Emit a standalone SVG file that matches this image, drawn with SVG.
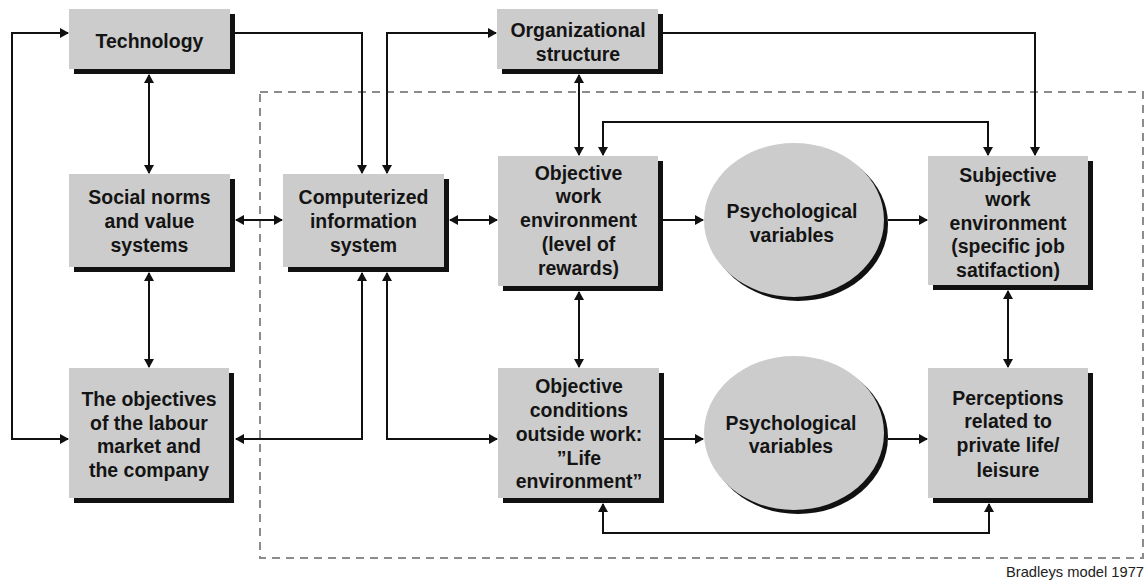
<svg xmlns="http://www.w3.org/2000/svg" width="1147" height="584" viewBox="0 0 1147 584">
  <defs>
    <marker id="arrow" viewBox="0 0 9 10" refX="8" refY="5" markerWidth="9" markerHeight="10" markerUnits="userSpaceOnUse" orient="auto-start-reverse">
      <path d="M0,0 L9,5 L0,10 z" fill="#111"/>
    </marker>
    <style>
      .box { fill: #cccccc; }
      .shadow { fill: #111; }
      .label { font-family: "Liberation Sans", Arial, sans-serif; font-weight: bold; font-size: 20.5px; fill: #141414; text-anchor: middle; }
      .conn { fill: none; stroke: #111; stroke-width: 2; }
      .both { marker-start: url(#arrow); marker-end: url(#arrow); }
      .one { marker-end: url(#arrow); }
      .frame { fill: none; stroke: #8c8c8c; stroke-width: 2; stroke-dasharray: 8 6; }
      .caption { font-family: "Liberation Sans", Arial, sans-serif; font-size: 15px; fill: #222; text-anchor: end; }
    </style>
  </defs>

  <rect width="1147" height="584" fill="#ffffff"/>

  <!-- dashed boundary of the individual's sphere -->
  <rect class="frame" x="260" y="92" width="883" height="466"/>

  <!-- connectors -->
  <g id="connectors">
    <path class="conn both" d="M68,33 L12,33 L12,439 L68,439"/>
    <path class="conn one" d="M235,33 L362,33 L362,173"/>
    <path class="conn both" d="M496,33 L387,33 L387,173"/>
    <path class="conn both" d="M149,75 L149,173"/>
    <path class="conn both" d="M236,220 L282,220"/>
    <path class="conn both" d="M149,273 L149,367"/>
    <path class="conn both" d="M362,273 L362,439 L236,439"/>
    <path class="conn both" d="M387,273 L387,439 L497,439"/>
    <path class="conn both" d="M450,220 L497,220"/>
    <path class="conn both" d="M579,75 L579,155"/>
    <path class="conn both" d="M603,155 L603,122 L988,122 L988,155"/>
    <path class="conn one" d="M663,33 L1035,33 L1035,155"/>
    <path class="conn one" d="M663,220 L703,220"/>
    <path class="conn one" d="M888,220 L927,220"/>
    <path class="conn both" d="M579,292 L579,367"/>
    <path class="conn both" d="M1008,291 L1008,367"/>
    <path class="conn one" d="M664,439 L703,439"/>
    <path class="conn one" d="M888,439 L927,439"/>
    <path class="conn both" d="M603,504 L603,533 L989,533 L989,504"/>
  </g>

  <!-- labels are narrowed slightly about their centre line to get a condensed face -->
  <g id="technology">
    <rect class="shadow" x="74" y="14" width="161" height="60"/>
    <rect class="box" x="69" y="9" width="161" height="60"/>
    <text class="label" transform="translate(7.475,0) scale(0.95,1)" x="149.5" y="48">Technology</text>
  </g>

  <g id="organizational-structure">
    <rect class="shadow" x="502" y="14" width="161" height="60"/>
    <rect class="box" x="497" y="9" width="161" height="60"/>
    <text class="label" transform="translate(28.9,0) scale(0.95,1)"><tspan x="578" y="37">Organizational</tspan><tspan x="578" y="61">structure</tspan></text>
  </g>

  <g id="social-norms">
    <rect class="shadow" x="74" y="179" width="161" height="93"/>
    <rect class="box" x="69" y="174" width="161" height="93"/>
    <text class="label" transform="translate(7.475,0) scale(0.95,1)"><tspan x="149.5" y="204">Social norms</tspan><tspan x="149.5" y="228">and value</tspan><tspan x="149.5" y="252">systems</tspan></text>
  </g>

  <g id="computerized-information-system">
    <rect class="shadow" x="288" y="179" width="161" height="93"/>
    <rect class="box" x="283" y="174" width="161" height="93"/>
    <text class="label" transform="translate(18.175,0) scale(0.95,1)"><tspan x="363.5" y="204">Computerized</tspan><tspan x="363.5" y="228">information</tspan><tspan x="363.5" y="252">system</tspan></text>
  </g>

  <g id="labour-market-objectives">
    <rect class="shadow" x="74" y="373" width="160" height="130"/>
    <rect class="box" x="69" y="368" width="160" height="130"/>
    <text class="label" transform="translate(7.45,0) scale(0.95,1)"><tspan x="149" y="406">The objectives</tspan><tspan x="149" y="430">of the labour</tspan><tspan x="149" y="453">market and</tspan><tspan x="149" y="477">the company</tspan></text>
  </g>

  <g id="objective-work-environment">
    <rect class="shadow" x="503" y="161" width="160" height="130"/>
    <rect class="box" x="498" y="156" width="160" height="130"/>
    <text class="label" transform="translate(28.925,0) scale(0.95,1)"><tspan x="578.5" y="180">Objective</tspan><tspan x="578.5" y="203.5">work</tspan><tspan x="578.5" y="227.5">environment</tspan><tspan x="578.5" y="251">(level of</tspan><tspan x="578.5" y="275">rewards)</tspan></text>
  </g>

  <g id="psychological-variables-work">
    <ellipse class="shadow" cx="798" cy="224" rx="90" ry="77"/>
    <ellipse class="box" cx="794" cy="220" rx="90" ry="77"/>
    <text class="label" transform="translate(39.6,0) scale(0.95,1)"><tspan x="792" y="218">Psychological</tspan><tspan x="792" y="242">variables</tspan></text>
  </g>

  <g id="subjective-work-environment">
    <rect class="shadow" x="933" y="161" width="160" height="129"/>
    <rect class="box" x="928" y="156" width="160" height="129"/>
    <text class="label" transform="translate(50.4,0) scale(0.95,1)"><tspan x="1008" y="182">Subjective</tspan><tspan x="1008" y="206">work</tspan><tspan x="1008" y="230">environment</tspan><tspan x="1008" y="253">(specific job</tspan><tspan x="1008" y="277">satifaction)</tspan></text>
  </g>

  <g id="objective-conditions-outside-work">
    <rect class="shadow" x="503" y="373" width="161" height="130"/>
    <rect class="box" x="498" y="368" width="161" height="130"/>
    <text class="label" transform="translate(28.95,0) scale(0.95,1)"><tspan x="579" y="393">Objective</tspan><tspan x="579" y="417">conditions</tspan><tspan x="579" y="441">outside work:</tspan><tspan x="579" y="465">”Life</tspan><tspan x="579" y="488">environment”</tspan></text>
  </g>

  <g id="psychological-variables-life">
    <ellipse class="shadow" cx="798" cy="437" rx="90" ry="77"/>
    <ellipse class="box" cx="794" cy="433" rx="90" ry="77"/>
    <text class="label" transform="translate(39.55,0) scale(0.95,1)"><tspan x="791" y="430">Psychological</tspan><tspan x="791" y="453">variables</tspan></text>
  </g>

  <g id="private-life-perceptions">
    <rect class="shadow" x="933" y="373" width="160" height="130"/>
    <rect class="box" x="928" y="368" width="160" height="130"/>
    <text class="label" transform="translate(50.4,0) scale(0.95,1)"><tspan x="1008" y="405">Perceptions</tspan><tspan x="1008" y="428">related to</tspan><tspan x="1008" y="452">private life/</tspan><tspan x="1008" y="477">leisure</tspan></text>
  </g>

  <text class="caption" x="1144" y="577" textLength="138" lengthAdjust="spacingAndGlyphs">Bradleys model 1977</text>
</svg>
